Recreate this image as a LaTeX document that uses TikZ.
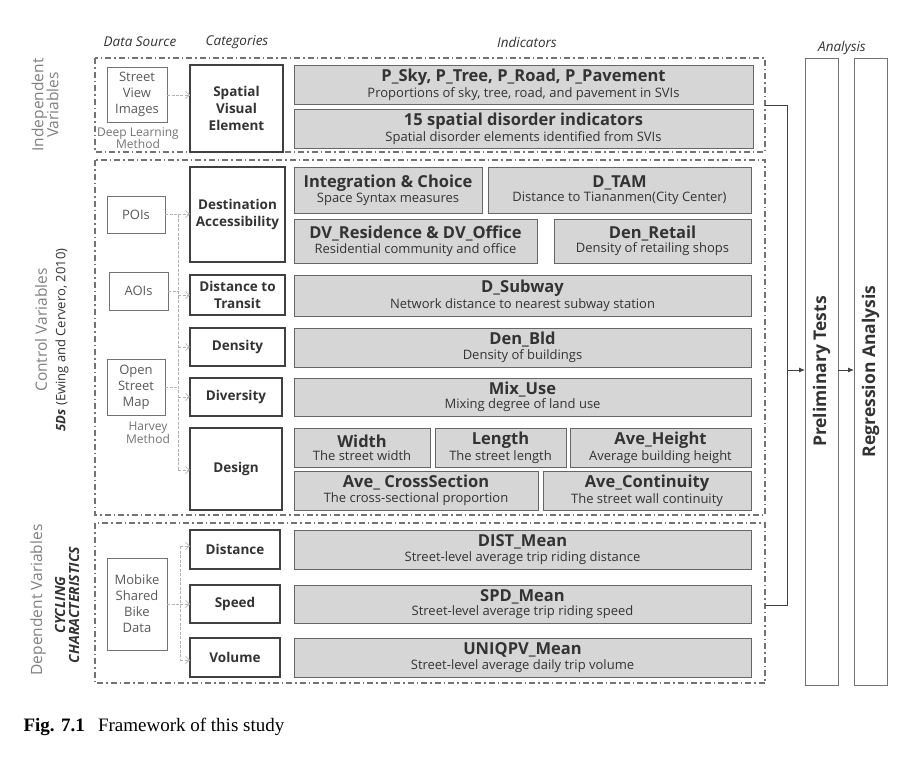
\documentclass[tikz,border=0pt]{standalone}
\usepackage{fontspec}
\setmainfont{Open Sans}
\newfontfamily\capfont{Liberation Serif}
\usetikzlibrary{arrows.meta}
\newcommand\mybox[7]{%
\pgfmathsetmacro\cx{(#3+#5)/2}\pgfmathsetmacro\cy{(#4+#6)/2}%
\pgfmathsetmacro\w{#5-#3}\pgfmathsetmacro\h{#6-#4}%
\node[#1,minimum width=\w pt,minimum height=\h pt] (#2) at (\cx,\cy) {#7};}
\newcommand\indt[2]{{\bfseries\fontsize{16.5}{18}\selectfont #1}\\[1pt]{\fontsize{13}{15}\selectfont #2}}
\begin{document}
\begin{tikzpicture}[x=1pt,y=-1pt,
 ind/.style={draw=black!60,fill=black!16,line width=0.8pt,inner sep=0,outer sep=0,align=center,text=black!80},
 cat/.style={draw=black!75,line width=1.2pt,inner sep=0,outer sep=0,align=center,text=black!80,font=\bfseries\fontsize{13.5}{17}\selectfont},
 thick cat/.style={cat,line width=1.8pt},
 src/.style={draw=black!55,line width=0.8pt,inner sep=0,outer sep=0,align=center,text=black!65,font=\fontsize{13}{16}\selectfont},
 sec/.style={draw=black!55,line width=1.1pt,dash pattern=on 6pt off 3pt on 1.5pt off 3pt},
 hdr/.style={font=\itshape\fontsize{13.5}{15}\selectfont,text=black!80},
 conn/.style={draw=black!30,line width=0.7pt,dash pattern=on 3pt off 1.5pt},
 carr/.style={conn,-{Straight Barb[length=4pt,width=7pt]}},
 side/.style={rotate=90,align=center,text=black!50,font=\fontsize{15.5}{17}\selectfont},
 flow/.style={draw=black!75,line width=0.8pt},
 farr/.style={flow,-{Latex[length=6pt,width=5pt]}}]
\useasboundingbox (0,0) rectangle (920,771);
% headers
\node[hdr] (h1) at (140,42) {Data Source};
\node[hdr] (h2) at (237,42) {Categories};
\node[hdr] (h3) at (527,42) {Indicators};
\node[hdr] (h4) at (842,48) {Analysis};
% sections
\draw[sec] (95,58) rectangle (765,152);
\draw[sec] (95,160) rectangle (765,515);
\draw[sec] (95,523) rectangle (765,683);
% side labels
\node[side] (sl1) at (45,105) {Independent\\[-2pt]Variables};
\node[side] (sl2) at (41,330) {Control Variables};
\node[side,text=black!80,font=\fontsize{13}{15}\selectfont] (sl3) at (62,340) {\textbf{\itshape 5Ds} (Ewing and Cervero, 2010)};
\node[side] (sl4) at (38,600) {Dependent Variables};
\node[side,text=black!80,font=\bfseries\itshape\fontsize{14}{16}\selectfont] (sl5) at (67,605) {CYCLING\\[-2pt]CHARACTERISTICS};
% sources
\mybox{src}{s1}{107}{67}{167}{122}{Street\\View\\Images}
\node[text=black!55,align=center,font=\fontsize{12}{12.5}\selectfont,inner sep=0] (dl) at (138,138) {Deep Learning\\Method};
\mybox{src}{s2}{107}{196}{165}{233}{POIs}
\mybox{src}{s3}{109}{272}{168}{310}{AOIs}
\mybox{src}{s4}{107}{359}{165}{415}{Open\\Street\\Map}
\node[text=black!55,align=center,font=\fontsize{12}{13}\selectfont] (hm) at (148,433) {Harvey\\Method};
\mybox{src}{s5}{107}{558}{167}{650}{Mobike\\Shared\\Bike\\Data}
% categories
\mybox{thick cat}{c1}{190}{65}{283}{152}{Spatial\\Visual\\Element}
\mybox{cat}{c2}{190}{167}{285}{262}{Destination\\Accessibility}
\mybox{cat}{c3}{190}{275}{285}{315}{Distance to\\Transit}
\mybox{cat}{c4}{190}{328}{285}{366}{Density}
\mybox{cat}{c5}{190}{378}{282}{416}{Diversity}
\mybox{thick cat}{c6}{190}{428}{282}{510}{Design}
\mybox{cat}{c7}{190}{530}{280}{569}{Distance}
\mybox{cat}{c8}{190}{585}{280}{623}{Speed}
\mybox{cat}{c9}{190}{638}{280}{677}{Volume}
% indicators
\mybox{ind}{i1}{294}{65}{753}{104}{\indt{P\_Sky, P\_Tree, P\_Road, P\_Pavement}{Proportions of sky, tree, road, and pavement in SVIs}}
\mybox{ind}{i2}{294}{109}{753}{148}{\indt{15 spatial disorder indicators}{Spatial disorder elements identified from SVIs}}
\mybox{ind}{i3}{294}{167}{482}{213}{\indt{Integration \& Choice}{Space Syntax measures}}
\mybox{ind}{i4}{488}{167}{751}{213}{\indt{D\_TAM}{Distance to Tiananmen(City Center)}}
\mybox{ind}{i5}{294}{219}{537}{263}{\indt{DV\_Residence \& DV\_Office}{Residential community and office}}
\mybox{ind}{i6}{554}{219}{751}{263}{\indt{Den\_Retail}{Density of retailing shops}}
\mybox{ind}{i7}{294}{275}{751}{316}{\indt{D\_Subway}{Network distance to nearest subway station}}
\mybox{ind}{i8}{294}{328}{751}{367}{\indt{Den\_Bld}{Density of buildings}}
\mybox{ind}{i9}{294}{378}{751}{416}{\indt{Mix\_Use}{Mixing degree of land use}}
\mybox{ind}{i10}{294}{428}{430}{467}{\indt{Width}{The street width}}
\mybox{ind}{i11}{435}{428}{566}{467}{\indt{Length}{The street length}}
\mybox{ind}{i12}{570}{428}{751}{467}{\indt{Ave\_Height}{Average building height}}
\mybox{ind}{i13}{294}{471}{538}{510}{\indt{Ave\_ CrossSection}{The cross-sectional proportion}}
\mybox{ind}{i14}{543}{471}{751}{510}{\indt{Ave\_Continuity}{The street wall continuity}}
\mybox{ind}{i15}{294}{530}{751}{569}{\indt{DIST\_Mean}{Street-level average trip riding distance}}
\mybox{ind}{i16}{294}{585}{751}{623}{\indt{SPD\_Mean}{Street-level average trip riding speed}}
\mybox{ind}{i17}{294}{638}{751}{677}{\indt{UNIQPV\_Mean}{Street-level average daily trip volume}}
% analysis
\mybox{src}{a1}{805}{58}{838}{685}{}
\node[rotate=90,font=\bfseries\fontsize{17.5}{19}\selectfont,text=black!80] (a1t) at (a1) {Preliminary Tests};
\mybox{src}{a2}{854}{58}{887}{685}{}
\node[rotate=90,font=\bfseries\fontsize{17.5}{19}\selectfont,text=black!80] (a2t) at (a2) {Regression Analysis};
% source connectors
\coordinate (k1) at (180,95);
\draw[conn] (s1.east |- k1) -- (k1);
\draw[carr] (k1) -- (c1.west |- k1);
\coordinate (vt) at (178,214);
\coordinate (vb) at (178,470);
\draw[conn] (s2.east |- vt) -- (vt) -- (vb);
\draw[conn] (s3.east) -- (s3.east -| vt);
\draw[conn] (s4.east) -- (s4.east -| vt);
\draw[carr] (vt) -- (c2.west |- vt);
\draw[carr] (vt |- c3.west) -- (c3.west);
\draw[carr] (vt |- c4.west) -- (c4.west);
\draw[carr] (vt |- c5.west) -- (c5.west);
\draw[carr] (vb) -- (c6.west |- vb);
\coordinate (mt) at (180,546);
\coordinate (mb) at (180,660);
\draw[conn] (mt) -- (mb);
\draw[conn] (s5.east) -- (s5.east -| mt);
\draw[carr] (mt) -- (c7.west |- mt);
\draw[carr] (mt |- c8.west) -- (c8.west);
\draw[carr] (mb) -- (c9.west |- mb);
% analysis flow
\coordinate (ft) at (765,105);
\coordinate (fb) at (765,605);
\coordinate (fm) at (787,370);
\draw[flow] (ft) -- (fm |- ft) -- (fm |- fb) -- (fb);
\draw[farr] (fm) -- (a1.west |- fm);
\draw[farr] (a1.east |- fm) -- (a2.west |- fm);
% caption
\node[anchor=west,font=\capfont\fontsize{19}{21}\selectfont] (cap) at (20,727) {\textbf{Fig. 7.1}\hspace{0.7em}Framework of this study};
\end{tikzpicture}
\end{document}
